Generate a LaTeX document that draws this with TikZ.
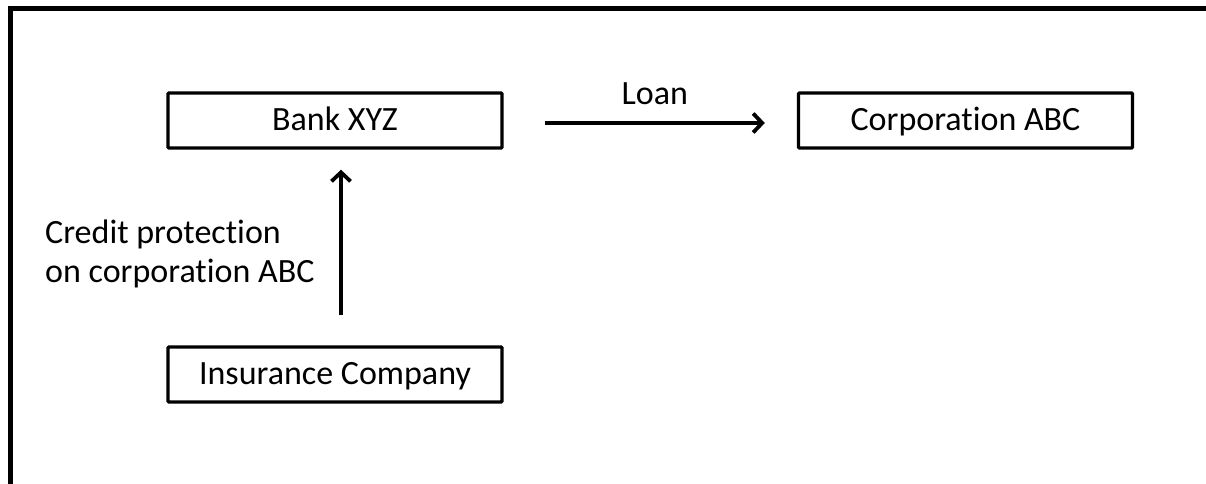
\documentclass[tikz,border=0pt]{standalone}
\usepackage{fontspec}
\setmainfont{Carlito}[Ligatures=NoCommon]
\usetikzlibrary{arrows.meta}
\begin{document}
\begin{tikzpicture}[x=1pt,y=-1pt,
  entity/.style={draw, line width=3.4pt, rounded corners=1pt,
    minimum width=334pt, minimum height=55pt, inner sep=0pt,
    text height=25pt, text depth=6pt,
    font=\fontsize{34}{39}\selectfont},
  flow/.style={line width=3.8pt, -{Straight Barb[length=9pt,width=19pt]}},
  caption/.style={font=\fontsize{34}{39}\selectfont, inner sep=0pt}]
  \useasboundingbox (0,0) rectangle (1206,484);
  % open frame: left and top edges only
  \coordinate (fbl) at (10.5,490);
  \coordinate (ftl) at (10.5,8.5);
  \coordinate (ftr) at (1210,8.5);
  \draw[line width=4.6pt, miter limit=10] (fbl) -- (ftl) -- (ftr);
  % parties
  \node[entity] (bank) at (335,120.5) {Bank XYZ};
  \node[entity] (corp) at (965.5,120.5) {Corporation ABC};
  \node[entity] (ins) at (335,374.5) {Insurance Company};
  % loan from the bank to the corporation
  \draw[flow] ([shift={(41,2.5)}]bank.east) -- ([shift={(-32,2.5)}]corp.west)
    coordinate[midway] (loanmid);
  \node[caption, anchor=base] (loan) at ([yshift=18pt]loanmid) {Loan};
  % protection bought from the insurer
  \draw[flow] ([shift={(6,-30)}]ins.north) -- ([shift={(6,20)}]bank.south);
  \node[caption, anchor=base west, align=left] (prot) at (45,282)
    {Credit protection\\on corporation ABC};
\end{tikzpicture}
\end{document}
